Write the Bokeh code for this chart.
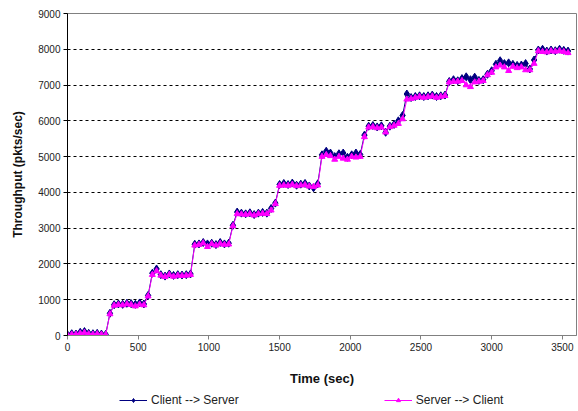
from bokeh.plotting import figure
from bokeh.layouts import column
from bokeh.models import Range1d, FixedTicker, Legend, LegendItem, ColumnDataSource
from bokeh.embed import file_html
from bokeh.resources import INLINE

# Sample times (sec), one sample every 30 s
time_sec = list(range(0, 3541, 30))

# Throughput in packets/sec for each direction
client_to_server = [
    20, 50, 40, 90, 110, 60, 50, 60, 40, 30,
    620, 860, 880, 870, 900, 890, 870, 910, 880, 1120,
    1740, 1860, 1700, 1660, 1720, 1680, 1700, 1690, 1700, 1720,
    2550, 2560, 2600, 2560, 2580, 2540, 2600, 2560, 2580, 3080,
    3450, 3420, 3400, 3430, 3380, 3420, 3440, 3420, 3550, 3700,
    4220, 4250, 4220, 4260, 4200, 4230, 4250, 4180, 4130, 4240,
    5050, 5150, 5100, 5000, 5080, 5100, 4980, 5050, 5100, 5060,
    5600, 5850, 5870, 5830, 5860, 5680, 5850, 5900, 6000, 6150,
    6750, 6650, 6680, 6700, 6680, 6700, 6720, 6680, 6700, 6720,
    7100, 7150, 7120, 7180, 7230, 7150, 7220, 7130, 7150, 7300,
    7400, 7580, 7680, 7600, 7620, 7580, 7550, 7560, 7600, 7450,
    7700, 7980, 8000, 7950, 7980, 7960, 8000, 7970, 7950,
]

server_to_client = [
    10, 30, 30, 60, 80, 40, 30, 40, 30, 20,
    600, 840, 860, 850, 880, 860, 820, 870, 850, 1100,
    1700, 1800, 1680, 1640, 1700, 1650, 1680, 1670, 1680, 1700,
    2520, 2540, 2580, 2480, 2560, 2520, 2570, 2540, 2550, 3060,
    3400, 3390, 3380, 3400, 3360, 3400, 3410, 3400, 3500, 3680,
    4190, 4200, 4190, 4220, 4180, 4200, 4210, 4170, 4160, 4200,
    5000, 5050, 5020, 4920, 5000, 4950, 4920, 5000, 4980, 5000,
    5550, 5820, 5830, 5800, 5820, 5680, 5830, 5870, 5920, 6050,
    6600, 6620, 6650, 6680, 6650, 6670, 6690, 6650, 6680, 6700,
    7080, 7100, 7100, 7120, 7000, 6950, 7080, 7100, 7120, 7280,
    7350, 7500, 7550, 7500, 7400, 7520, 7480, 7500, 7420, 7420,
    7600, 7950, 7930, 7920, 7950, 7940, 7960, 7930, 7900,
]

series_names = ["Client --> Server", "Server --> Client"]
x_ticks = [0, 500, 1000, 1500, 2000, 2500, 3000, 3500]
y_ticks = [0, 1000, 2000, 3000, 4000, 5000, 6000, 7000, 8000, 9000]

FONT = "Liberation Sans"
NAVY = "#000080"
MAGENTA = "#FF00FF"

src = ColumnDataSource(dict(t=time_sec, c2s=client_to_server, s2c=server_to_client))

p = figure(
    frame_width=509, frame_height=322,
    output_backend="svg", toolbar_location=None,
    x_range=Range1d(0, 3600), y_range=Range1d(0, 9000),
    min_border_left=67, min_border_right=2,
    min_border_top=13, min_border_bottom=53,
    background_fill_color="white", border_fill_color="white",
)
p.outline_line_color = "#808080"
p.outline_line_width = 1

# Axes
p.xaxis.ticker = FixedTicker(ticks=x_ticks)
p.yaxis.ticker = FixedTicker(ticks=y_ticks)
for ax in (p.xaxis[0], p.yaxis[0]):
    ax.major_label_text_font = FONT
    ax.major_label_text_font_size = "10px"
    ax.major_label_text_color = "#222222"
    ax.axis_label_text_font = FONT
    ax.axis_label_text_font_size = "12px"
    ax.axis_label_text_font_style = "bold"
    ax.axis_label_text_color = "#111111"
    ax.minor_tick_line_color = None
    ax.major_tick_in = 0
    ax.major_tick_out = 4
    ax.major_label_standoff = 3

p.xaxis.axis_label = "Time (sec)"
p.yaxis.axis_label = "Throughput (pkts/sec)"
p.xaxis.axis_label_text_font_size = "13px"
p.xaxis.axis_line_color = "#808080"
p.xaxis.major_tick_line_color = "#808080"
p.yaxis.axis_line_color = "black"
p.yaxis.major_tick_line_color = "black"
p.xaxis.axis_label_standoff = 17
p.yaxis.axis_label_standoff = 10

# Dashed horizontal gridlines only
p.xgrid.visible = False
p.ygrid.ticker = FixedTicker(ticks=y_ticks[1:-1])
p.ygrid.grid_line_color = "black"
p.ygrid.grid_line_dash = "3 3"
p.ygrid.grid_line_width = 1

# Series
p.line("t", "c2s", source=src, line_color=NAVY, line_width=1)
p.scatter("t", "c2s", source=src, marker="diamond", size=8,
          fill_color=NAVY, line_color=NAVY)
p.line("t", "s2c", source=src, line_color=MAGENTA, line_width=1)
p.scatter("t", "s2c", source=src, marker="triangle", size=6,
          fill_color=MAGENTA, line_color=MAGENTA)

# Legend strip underneath the chart (its frame lines up with the chart frame)
leg = figure(
    width=578, height=23,
    output_backend="svg", toolbar_location=None,
    x_axis_type=None, y_axis_type=None,
    x_range=Range1d(0, 1), y_range=Range1d(0, 1),
    min_border=0, outline_line_color=None,
    background_fill_color="white", border_fill_color="white",
)
leg.xgrid.visible = False
leg.ygrid.visible = False
# legend-key renderers: points sit outside the strip's visible range
key = ColumnDataSource(dict(x=[-5, -4], y=[-5, -4]))
l1 = leg.line("x", "y", source=key, line_color=NAVY, line_width=1)
m1 = leg.scatter("x", "y", source=key, marker="diamond", size=8,
                 fill_color=NAVY, line_color=NAVY)
l2 = leg.line("x", "y", source=key, line_color=MAGENTA, line_width=1)
m2 = leg.scatter("x", "y", source=key, marker="triangle", size=6,
                 fill_color=MAGENTA, line_color=MAGENTA)

legend = Legend(
    items=[
        LegendItem(label=series_names[0], renderers=[l1, m1]),
        LegendItem(label=series_names[1], renderers=[l2, m2]),
    ],
    orientation="horizontal",
    location=(52, 4),
    spacing=145,
    glyph_width=28,
    glyph_height=10,
    label_standoff=4,
    label_height=10,
    padding=0,
    margin=0,
    border_line_color=None,
    background_fill_alpha=0,
    label_text_font=FONT,
    label_text_font_size="12px",
    label_text_color="#222222",
)
leg.add_layout(legend, "center")

layout = column(p, leg, spacing=0)
open("out.html", "w").write(file_html(layout, INLINE))
